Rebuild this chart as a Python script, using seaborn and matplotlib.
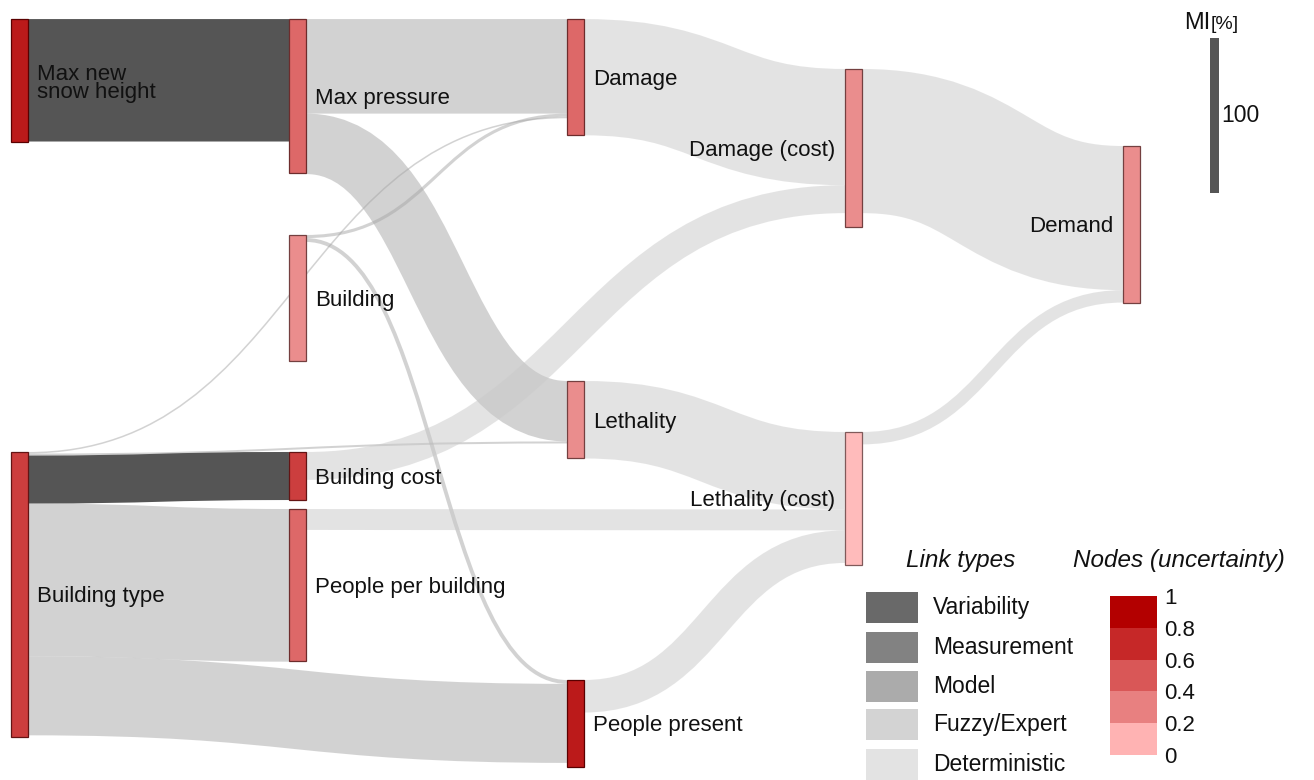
import numpy as np
import pandas as pd
import matplotlib
matplotlib.use("Agg")
import matplotlib.pyplot as plt
from matplotlib.path import Path
from matplotlib.patches import PathPatch, Rectangle
from matplotlib.colors import ListedColormap, to_rgb
import seaborn as sns

# ---------------- data ----------------
node_names = ["Max new\nsnow height", "Building type", "Max pressure", "Building",
              "Building cost", "People per building", "Damage", "Lethality",
              "People present", "Damage (cost)", "Lethality (cost)", "Demand"]
node_column = [0, 0, 1, 1, 1, 1, 2, 2, 2, 3, 3, 4]
node_size = [79, 184, 99, 81, 31, 98, 75, 50, 56, 102, 86, 101]          # MI [%]
node_uncertainty = [0.9, 0.7, 0.5, 0.3, 0.7, 0.5, 0.5, 0.3, 0.9, 0.3, 0.1, 0.3]

link_source = [0, 1, 1, 1, 1, 1, 2, 2, 3, 3, 6, 4, 7, 5, 8, 9, 10]
link_target = [2, 6, 7, 4, 5, 8, 6, 7, 6, 8, 9, 9, 10, 10, 10, 11, 11]
link_value = [79, 1.0, 1.3, 31, 98.5, 51, 61, 39, 2, 2.5, 75, 18, 50, 13.5, 21, 93, 8]
link_type = ["Variability", "Fuzzy/Expert", "Fuzzy/Expert", "Variability", "Fuzzy/Expert",
             "Fuzzy/Expert", "Fuzzy/Expert", "Fuzzy/Expert", "Fuzzy/Expert", "Fuzzy/Expert",
             "Deterministic", "Deterministic", "Deterministic", "Deterministic",
             "Deterministic", "Deterministic", "Deterministic"]

link_type_names = ["Variability", "Measurement", "Model", "Fuzzy/Expert", "Deterministic"]
uncertainty_ticks = ["1", "0.8", "0.6", "0.4", "0.2", "0"]
uncertainty_bins = [0.9, 0.7, 0.5, 0.3, 0.1]
mi_scale_value = 100

# ---------------- layout / style ----------------
W, H, DPI = 1314, 780, 100
PX_PER_UNIT = 1.55
node_top = [12.3, 291.6, 12.3, 151.6, 291.6, 328.4, 12.3, 245.8, 438.7, 44.5, 278.7, 94.2]
COL_X0, COL_STEP, NODE_W = 11, 278, 17

node_palette = ["#ffb3b3", "#e88080", "#d95757", "#c62828", "#b30000"]   # low -> high
legend_link_colors = ["#696969", "#828282", "#ababab", "#d3d3d3", "#e3e3e3"]
link_style = {"Variability": ("#555555", 1.0), "Measurement": ("#828282", 1.0),
              "Model": ("#ababab", 1.0), "Fuzzy/Expert": ("#a7a7a7", 0.5),
              "Deterministic": ("#c9c9c9", 0.5)}

sns.set_theme(style="white")
plt.rcParams["font.family"] = ["Liberation Sans", "DejaVu Sans"]

fig = plt.figure(figsize=(W / DPI, H / DPI), dpi=DPI)
ax = fig.add_axes([0, 0, 1, 1])
ax.set_xlim(0, W)
ax.set_ylim(H / PX_PER_UNIT, 0)
ax.axis("off")

def node_x(i):
    return COL_X0 + COL_STEP * node_column[i]

# link offsets (sorted by the other end's position, as in d3-sankey)
n_links = len(link_value)
src_off = [0.0] * n_links
tgt_off = [0.0] * n_links
for n in range(len(node_names)):
    outs = sorted([k for k in range(n_links) if link_source[k] == n], key=lambda k: node_top[link_target[k]])
    acc = node_top[n]
    for k in outs:
        src_off[k] = acc
        acc += link_value[k]
    ins = sorted([k for k in range(n_links) if link_target[k] == n], key=lambda k: node_top[link_source[k]])
    acc = node_top[n]
    for k in ins:
        tgt_off[k] = acc
        acc += link_value[k]

px_per_unit = H / (H / PX_PER_UNIT)
for k in range(n_links):
    s, t, v = link_source[k], link_target[k], link_value[k]
    x0 = node_x(s) + NODE_W
    x1 = node_x(t)
    y0 = src_off[k] + v / 2
    y1 = tgt_off[k] + v / 2
    xm = (x0 + x1) / 2
    path = Path([(x0, y0), (xm, y0), (xm, y1), (x1, y1)],
                [Path.MOVETO, Path.CURVE4, Path.CURVE4, Path.CURVE4])
    col, a = link_style[link_type[k]]
    lw = v * px_per_unit * 72 / DPI
    ax.add_patch(PathPatch(path, facecolor="none", edgecolor=col, lw=lw, alpha=a,
                           capstyle="butt", zorder=1))

# nodes
node_cmap = ListedColormap(node_palette)
for i, name in enumerate(node_names):
    fill = np.array(to_rgb(node_cmap(min(int(node_uncertainty[i] * 5), 4))))
    fill_vis = fill * 0.9 + 0.1
    edge = fill * 0.5
    ax.bar(node_x(i), node_size[i], width=NODE_W, bottom=node_top[i], align="edge",
           color=fill_vis, edgecolor=edge, linewidth=0.9, zorder=3)
    cy = node_top[i] + node_size[i] / 2
    if node_column[i] < 3:
        tx, ha = node_x(i) + NODE_W + 9, "left"
    else:
        tx, ha = node_x(i) - 10, "right"
    if "\n" in name:
        ax.text(tx, cy + 3 / px_per_unit, name, ha=ha, va="center", fontsize=16,
                linespacing=0.8, color="#111111", zorder=4)
    else:
        ax.text(tx, cy + 7.8 / px_per_unit, name, ha=ha, va="baseline", fontsize=16,
                color="#111111", zorder=4)

# MI scale bar
ax.bar(1210, mi_scale_value, width=9, bottom=38 / px_per_unit, align="edge",
       color="#555555", linewidth=0, zorder=3)
ax.text(1221, 38 / px_per_unit + mi_scale_value / 2, str(mi_scale_value), ha="left",
        va="center", fontsize=16.5, color="#111111")
ax.text(1210, 29 / px_per_unit, "MI", ha="right", va="baseline", fontsize=17, color="#111111")
ax.text(1211, 29 / px_per_unit, "[%]", ha="left", va="baseline", fontsize=14, color="#111111")

# legend overlay (pixel coordinates)
lax = fig.add_axes([0, 0, 1, 1], facecolor="none")
lax.set_xlim(0, W)
lax.set_ylim(H, 0)
lax.axis("off")
lax.text(961, 561, "Link types", ha="center", va="center", fontsize=17.5, style="italic",
         color="#111111")
lax.text(1179, 561, "Nodes (uncertainty)", ha="center", va="center", fontsize=17.5,
         style="italic", color="#111111")
sw_tops = [592, 632, 671, 709, 749]
for name, c, top in zip(link_type_names, legend_link_colors, sw_tops):
    lax.add_patch(Rectangle((866, top), 52, 31, facecolor=c, edgecolor="none"))
    lax.text(933, top + 15.5, name, ha="left", va="center", fontsize=16.5, color="#111111")

# node uncertainty colour key via seaborn heatmap
cax = fig.add_axes([1110 / W, 1 - 755 / H, 47 / W, 159 / H])
key = pd.DataFrame({"u": uncertainty_bins})
sns.heatmap(key, ax=cax, cmap=node_cmap, vmin=0, vmax=1, cbar=False,
            xticklabels=False, yticklabels=False, linewidths=0)
cax.set_yticks(np.arange(len(uncertainty_ticks)))
cax.set_yticklabels(uncertainty_ticks, rotation=0)
cax.yaxis.tick_right()
cax.tick_params(axis="y", length=0, pad=5, labelsize=16, labelcolor="#111111")
cax.set_ylabel("")
cax.set_xlabel("")

fig.savefig("out.png", dpi=DPI)
